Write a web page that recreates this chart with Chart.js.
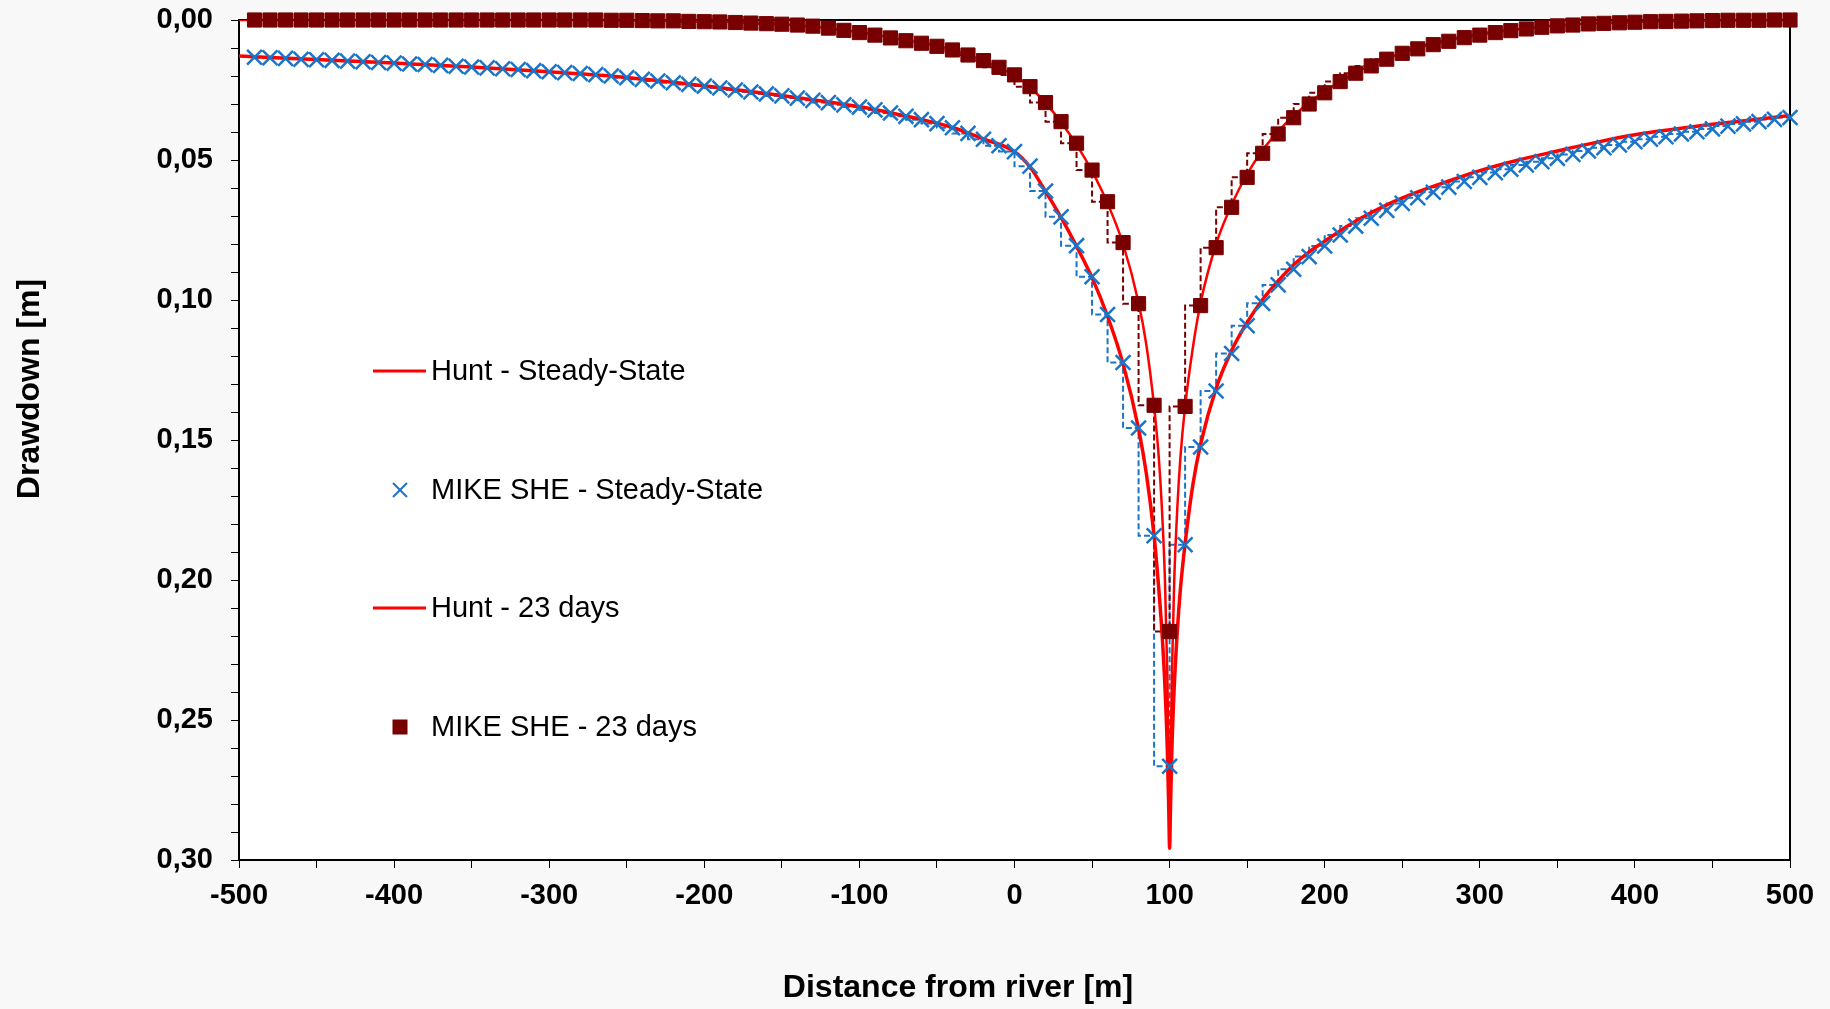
<!DOCTYPE html>
<html>
<head>
<meta charset="utf-8">
<script src="https://cdn.jsdelivr.net/npm/chart.js@4.4.1/dist/chart.umd.min.js"></script>
<style>
  html, body { margin: 0; padding: 0; background: #f8f8f8; }
  #wrap { width: 1830px; height: 1009px; }
</style>
</head>
<body>
<div id="wrap"><canvas id="myChart"></canvas></div>
<script>
// MIKE SHE grid cell centres, distance from river [m]
const cellX = [
  -490, -480, -470, -460, -450, -440, -430, -420, -410, -400,
  -390, -380, -370, -360, -350, -340, -330, -320, -310, -300,
  -290, -280, -270, -260, -250, -240, -230, -220, -210, -200,
  -190, -180, -170, -160, -150, -140, -130, -120, -110, -100,
  -90, -80, -70, -60, -50, -40, -30, -20, -10, 0,
  10, 20, 30, 40, 50, 60, 70, 80, 90, 100,
  110, 120, 130, 140, 150, 160, 170, 180, 190, 200,
  210, 220, 230, 240, 250, 260, 270, 280, 290, 300,
  310, 320, 330, 340, 350, 360, 370, 380, 390, 400,
  410, 420, 430, 440, 450, 460, 470, 480, 490, 500
];

// MIKE SHE drawdown [m], steady state
const mikeSteady = [
  0.0133, 0.0135, 0.0137, 0.0140, 0.0142, 0.0144, 0.0147, 0.0149, 0.0152, 0.0154,
  0.0157, 0.0159, 0.0162, 0.0165, 0.0168, 0.0171, 0.0174, 0.0177, 0.0181, 0.0185,
  0.0188, 0.0191, 0.0195, 0.0200, 0.0206, 0.0212, 0.0218, 0.0224, 0.0230, 0.0236,
  0.0243, 0.0250, 0.0257, 0.0264, 0.0271, 0.0279, 0.0287, 0.0295, 0.0303, 0.0311,
  0.0321, 0.0332, 0.0344, 0.0356, 0.0370, 0.0385, 0.0405, 0.0426, 0.0449, 0.0470,
  0.0522, 0.0611, 0.0703, 0.0806, 0.0917, 0.1052, 0.1223, 0.1457, 0.1842, 0.2665,
  0.1874, 0.1525, 0.1325, 0.1191, 0.1092, 0.1012, 0.0946, 0.0890, 0.0845, 0.0807,
  0.0768, 0.0736, 0.0708, 0.0680, 0.0655, 0.0635, 0.0615, 0.0597, 0.0577, 0.0562,
  0.0545, 0.0533, 0.0518, 0.0506, 0.0494, 0.0480, 0.0468, 0.0456, 0.0446, 0.0435,
  0.0426, 0.0417, 0.0407, 0.0399, 0.0389, 0.0379, 0.0371, 0.0363, 0.0355, 0.0348
];

// MIKE SHE drawdown [m], after 23 days
const mike23 = [
  0, 0, 0, 0, 0, 0, 0, 0, 0, 0,
  0, 0, 0, 0, 0, 0, 0, 0, 0, 0,
  0, 0, 0, 0.0001, 0.0001, 0.0002, 0.0003, 0.0003, 0.0005, 0.0006,
  0.0007, 0.0009, 0.0011, 0.0013, 0.0015, 0.0018, 0.0022, 0.0029, 0.0037, 0.0045,
  0.0054, 0.0064, 0.0074, 0.0083, 0.0094, 0.0107, 0.0125, 0.0145, 0.0169, 0.0196,
  0.0238, 0.0295, 0.0363, 0.0440, 0.0536, 0.0649, 0.0795, 0.1013, 0.1376, 0.2184,
  0.1380, 0.1020, 0.0813, 0.0669, 0.0562, 0.0476, 0.0407, 0.0349, 0.0300, 0.0260,
  0.0220, 0.0190, 0.0164, 0.0140, 0.0119, 0.0103, 0.0088, 0.0076, 0.0063, 0.0054,
  0.0045, 0.0038, 0.0032, 0.0026, 0.0021, 0.0018, 0.0014, 0.0012, 0.0010, 0.0008,
  0.0006, 0.0005, 0.0004, 0.0003, 0.0002, 0.0001, 0.0001, 0.0001, 0, 0
];

// analytical (Hunt) solution sample points [m]
const huntX = [
  -500, -450, -400, -350, -300, -250, -200, -150, -100, -80, -60, -40, -20, 0,
  10, 20, 30, 40, 50, 60, 70, 80, 85, 90, 93, 95, 97, 98.5, 99.5, 100,
  100.5, 101.5, 103, 105, 107, 110, 115, 120, 130, 140, 150, 160, 170, 180, 190, 200,
  220, 240, 260, 280, 300, 325, 350, 375, 400, 425, 450, 475, 500
];

const huntSteady = [
  0.0129, 0.0141, 0.0154, 0.0168, 0.0185, 0.0205, 0.0235, 0.0270, 0.0310, 0.0331, 0.0355, 0.0384, 0.0425, 0.0470,
  0.0525, 0.0612, 0.0705, 0.0808, 0.0920, 0.1058, 0.1228, 0.1460, 0.1620, 0.1842, 0.2030, 0.2180, 0.2380, 0.2600, 0.2830, 0.2958,
  0.2830, 0.2600, 0.2380, 0.2180, 0.2030, 0.1870, 0.1660, 0.1515, 0.1315, 0.1180, 0.1080, 0.0998, 0.0932, 0.0874, 0.0828, 0.0790,
  0.0718, 0.0660, 0.0614, 0.0575, 0.0538, 0.0500, 0.0468, 0.0437, 0.0410, 0.0390, 0.0372, 0.0357, 0.0341
];

const hunt23 = [
  0, 0, 0, 0, 0, 0.0001, 0.0005, 0.0014, 0.0044, 0.0063, 0.0082, 0.0106, 0.0146, 0.0198,
  0.0240, 0.0296, 0.0365, 0.0445, 0.0540, 0.0655, 0.0800, 0.1010, 0.1160, 0.1380, 0.1560, 0.1740, 0.2000, 0.2330, 0.2700, 0.2958,
  0.2700, 0.2330, 0.2000, 0.1740, 0.1560, 0.1380, 0.1170, 0.1010, 0.0800, 0.0660, 0.0550, 0.0465, 0.0398, 0.0342, 0.0295, 0.0255,
  0.0188, 0.0138, 0.0100, 0.0073, 0.0052, 0.0033, 0.0020, 0.0012, 0.0007, 0.0004, 0.0002, 0.0001, 0
];

const seriesNames = ['Hunt - Steady-State', 'MIKE SHE - Steady-State', 'Hunt - 23 days', 'MIKE SHE - 23 days'];

const RED = '#ff0000';
const BLUE = '#1a75c8';
const DARKRED = '#780000';

function pairs(xs, ys) {
  return xs.map((x, i) => ({ x: x, y: ys[i] }));
}

const fontFamily = '"Liberation Sans", Arial, sans-serif';
const tickFont = { family: fontFamily, size: 29, weight: 'bold' };

const plotFrame = {
  id: 'plotFrame',
  beforeDraw(chart) {
    const { ctx, chartArea: a } = chart;
    ctx.save();
    ctx.fillStyle = '#f8f8f8';
    ctx.fillRect(0, 0, chart.width, chart.height);
    ctx.fillStyle = '#ffffff';
    ctx.fillRect(a.left, a.top, a.right - a.left, a.bottom - a.top);
    ctx.restore();
  },
  beforeDatasetsDraw(chart) {
    const { ctx, chartArea: a } = chart;
    ctx.save();
    ctx.strokeStyle = '#000';
    ctx.lineWidth = 2;
    ctx.beginPath();
    ctx.moveTo(a.left, a.top);
    ctx.lineTo(a.right, a.top);
    ctx.lineTo(a.right, a.bottom);
    ctx.stroke();
    ctx.restore();
  },
  afterDraw(chart) {
    const ctx = chart.ctx;
    ctx.save();
    // axis titles
    ctx.fillStyle = '#000';
    ctx.font = 'bold 32px ' + fontFamily;
    ctx.textAlign = 'center';
    ctx.textBaseline = 'middle';
    ctx.fillText('Distance from river [m]', 958, 988);
    ctx.translate(30, 389);
    ctx.rotate(-Math.PI / 2);
    ctx.font = 'bold 32px ' + fontFamily;
    ctx.fillText('Drawdown [m]', 0, 0);
    ctx.restore();

    // legend
    ctx.save();
    ctx.font = '29px ' + fontFamily;
    ctx.textAlign = 'left';
    ctx.textBaseline = 'middle';
    const rows = [371, 490, 608, 727];
    rows.forEach((y, i) => {
      if (i === 0 || i === 2) {
        ctx.strokeStyle = RED;
        ctx.lineWidth = 3;
        ctx.beginPath();
        ctx.moveTo(373, y);
        ctx.lineTo(426, y);
        ctx.stroke();
      } else if (i === 1) {
        ctx.strokeStyle = BLUE;
        ctx.lineWidth = 2;
        ctx.beginPath();
        ctx.moveTo(393, y - 7); ctx.lineTo(407, y + 7);
        ctx.moveTo(393, y + 7); ctx.lineTo(407, y - 7);
        ctx.stroke();
      } else {
        ctx.fillStyle = DARKRED;
        ctx.fillRect(392.5, y - 7.5, 15, 15);
      }
      ctx.fillStyle = '#000';
      ctx.fillText(seriesNames[i], 431, y + 1);
    });
    ctx.restore();
  }
};

const ctx = document.getElementById('myChart');
const drawdownChart = new Chart(ctx, {
  type: 'scatter',
  data: {
    datasets: [
      {
        label: seriesNames[3],
        data: pairs(cellX, mike23),
        showLine: false,
        pointStyle: 'rect',
        pointRadius: 10,
        pointBackgroundColor: DARKRED,
        pointBorderColor: DARKRED,
        pointBorderWidth: 1,
        clip: false,
        order: 1
      },
      {
        label: seriesNames[1],
        data: pairs(cellX, mikeSteady),
        showLine: false,
        pointStyle: 'crossRot',
        pointRadius: 10.5,
        pointBorderColor: BLUE,
        pointBorderWidth: 2.5,
        clip: false,
        order: 2
      },
      {
        label: seriesNames[2],
        data: pairs(huntX, hunt23),
        showLine: true,
        borderColor: RED,
        borderWidth: 2.5,
        pointRadius: 0,
        cubicInterpolationMode: 'monotone',
        order: 3
      },
      {
        label: seriesNames[0],
        data: pairs(huntX, huntSteady),
        showLine: true,
        borderColor: RED,
        borderWidth: 3.5,
        pointRadius: 0,
        cubicInterpolationMode: 'monotone',
        order: 4
      },
      {
        label: 'MIKE SHE - 23 days (cells)',
        data: pairs(cellX, mike23),
        showLine: true,
        stepped: 'after',
        borderColor: DARKRED,
        borderWidth: 2,
        borderDash: [6, 3],
        pointRadius: 0,
        order: 5
      },
      {
        label: 'MIKE SHE - Steady-State (cells)',
        data: pairs(cellX, mikeSteady),
        showLine: true,
        stepped: 'after',
        borderColor: BLUE,
        borderWidth: 2,
        borderDash: [6, 3],
        pointRadius: 0,
        order: 6
      }
    ]
  },
  options: {
    responsive: true,
    maintainAspectRatio: false,
    animation: false,
    layout: {
      padding: { top: 20, right: 40, left: 0, bottom: 0 }
    },
    plugins: {
      legend: { display: false },
      tooltip: { enabled: false },
      title: { display: false }
    },
    scales: {
      x: {
        type: 'linear',
        min: -500,
        max: 500,
        afterFit(scale) {
          scale.height = 149;
          scale.paddingLeft = 0;
          scale.paddingRight = 0;
        },
        border: { display: true, color: '#000', width: 2 },
        grid: {
          drawOnChartArea: false,
          drawTicks: true,
          tickLength: 8,
          tickColor: '#000',
          tickWidth: 1
        },
        ticks: {
          stepSize: 50,
          autoSkip: false,
          maxRotation: 0,
          padding: 11,
          color: '#000',
          font: tickFont,
          callback: (v) => (v % 100 === 0 ? String(v) : '')
        }
      },
      y: {
        type: 'linear',
        reverse: true,
        min: 0,
        max: 0.3,
        afterFit(scale) {
          scale.width = 239;
          scale.paddingTop = 0;
          scale.paddingBottom = 0;
        },
        border: { display: true, color: '#000', width: 2 },
        grid: {
          drawOnChartArea: false,
          drawTicks: true,
          tickLength: 8,
          tickColor: '#000',
          tickWidth: 1
        },
        ticks: {
          stepSize: 0.01,
          autoSkip: false,
          padding: 18,
          color: '#000',
          font: tickFont,
          callback: (v) => (Math.round(v * 100) % 5 === 0 ? v.toFixed(2).replace('.', ',') : '')
        }
      }
    }
  },
  plugins: [plotFrame]
});
</script>
</body>
</html>
